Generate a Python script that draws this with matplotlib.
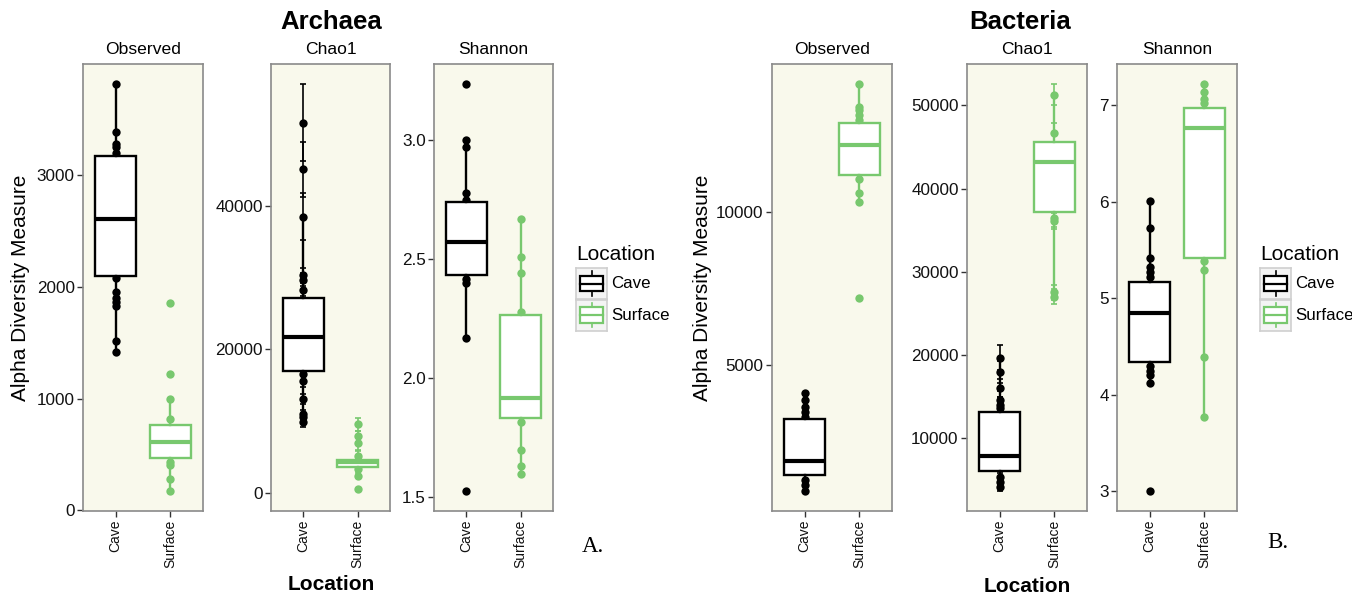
import numpy as np
import matplotlib.pyplot as plt
from matplotlib.patches import Rectangle

plt.rcParams['font.family'] = ['Liberation Sans', 'DejaVu Sans']

W, H = 1352, 599
cave_col = '#000000'
surf_col = '#78C86E'
panel_bg = '#F9F9EC'
groups = ['Cave', 'Surface']

# ---- Archaea ----
# visible sample points (Cave / Surface), box quartiles [q1, median, q3]
arch_obs_cave = [3815, 3387, 3283, 3253, 3200, 2083, 1958, 1905, 1870, 1830, 1512, 1417]
arch_obs_surf = [1854, 1217, 997, 821, 430, 404, 283, 176]
arch_obs_qc = [2101, 2613, 3176]
arch_obs_qs = [467, 613, 762]

arch_chao_cave = [51500, 45030, 38470, 30390, 29690, 28300, 16530, 15600, 13070, 10990, 10530, 9840]
arch_chao_cave_se = [5350, 3780, 3260, 970, 900, 900, 800, 800, 700, 600, 600, 600]
arch_chao_surf = [9600, 7900, 6930, 5210, 3370, 2440, 550]
arch_chao_surf_se = [900, 800, 900, 700, 300, 300, 200]
arch_chao_qc = [16990, 21700, 27160]
arch_chao_qs = [3600, 4300, 4660]

arch_sha_cave = [3.234, 3.001, 2.970, 2.779, 2.747, 2.415, 2.398, 2.170, 1.528]
arch_sha_surf = [2.667, 2.509, 2.442, 2.279, 1.816, 1.697, 1.633, 1.598]
arch_sha_qc = [2.433, 2.574, 2.738]
arch_sha_qs = [1.834, 1.915, 2.266]

# ---- Bacteria ----
bac_obs_cave = [4104, 3864, 3649, 3487, 3325, 1266, 1104, 909]
bac_obs_surf = [14188, 13442, 13333, 13172, 13010, 11084, 10630, 10357, 7221]
bac_obs_qc = [1429, 1864, 3247]
bac_obs_qs = [11224, 12221, 12922]

bac_chao_cave = [19636, 17881, 15970, 14573, 13976, 13582, 5224, 4627, 4030]
bac_chao_cave_se = [1500, 1300, 1100, 1000, 900, 900, 500, 450, 400]
bac_chao_surf = [51300, 46640, 36480, 36080, 27530, 27000]
bac_chao_surf_se = [1240, 1200, 1100, 1000, 900, 900]
bac_chao_qc = [5940, 7815, 13069]
bac_chao_qs = [37200, 43180, 45650]

bac_sha_cave = [6.006, 5.724, 5.415, 5.322, 5.270, 5.219, 4.300, 4.246, 4.204, 4.125, 3.007]
bac_sha_surf = [7.215, 7.139, 7.061, 7.026, 5.381, 5.288, 4.387, 3.768]
bac_sha_qc = [4.342, 4.851, 5.167]
bac_sha_qs = [5.419, 6.758, 6.974]


def px_axes(fig, x0, x1, y0=64, y1=511):
    return fig.add_axes([x0 / W, 1 - y1 / H, (x1 - x0) / W, (y1 - y0) / H])


def box_stats(pts, q, label):
    q1, med, q3 = q
    iqr = q3 - q1
    lo = min(p for p in pts if p >= q1 - 1.5 * iqr)
    hi = max(p for p in pts if p <= q3 + 1.5 * iqr)
    return dict(label=label, q1=q1, med=med, q3=q3, whislo=min(lo, q1), whishi=max(hi, q3))


def panel(ax, title, cave, surf, qc, qs, yticks, ylabels, se_c=None, se_s=None):
    ax.set_facecolor(panel_bg)
    ends = []
    for x, pts, se, col in [(1, cave, se_c, cave_col), (2, surf, se_s, surf_col)]:
        pts = np.array(pts, float)
        ax.plot(np.full(len(pts), x), pts, 'o', color=col, ms=6, mec='none', zorder=2)
        if se is not None:
            se = np.array(se, float)
            ax.errorbar(np.full(len(pts), x), pts, yerr=se, fmt='none', ecolor=col,
                        elinewidth=1.2, capsize=2.2, capthick=1.2, zorder=2)
            ends += list(pts + se) + list(pts - se)
        ends += list(pts)
    for x, pts, q, col in [(1, cave, qc, cave_col), (2, surf, qs, surf_col)]:
        st = box_stats(pts, q, '')
        ax.bxp([st], positions=[x], widths=0.75, showfliers=False, showcaps=False,
               patch_artist=True,
               boxprops=dict(facecolor='white', edgecolor=col, lw=1.7, zorder=3),
               medianprops=dict(color=col, lw=3, zorder=4, solid_capstyle='butt'),
               whiskerprops=dict(color=col, lw=1.7, zorder=3))
    lo, hi = min(ends), max(ends)
    pad = 0.05 * (hi - lo)
    ax.set_ylim(lo - pad, hi + pad)
    ax.set_xlim(0.4, 2.6)
    ax.set_xticks([1, 2])
    ax.set_xticklabels(groups, rotation=90, fontsize=10, color='#111111')
    ax.set_yticks(yticks)
    ax.set_yticklabels(ylabels, fontsize=12.3, color='#111111')
    ax.tick_params(length=4, width=1, color='#333333', pad=2)
    for s in ax.spines.values():
        s.set_color('#8A8A8A')
        s.set_linewidth(1.2)
    ax.set_title(title, fontsize=12.6, pad=7.5)


def legend(fig, x0, ytitle):
    fig.text(x0 / W, 1 - ytitle / H, 'Location', fontsize=15, va='center', ha='left')
    for i, (lab, col) in enumerate([('Cave', cave_col), ('Surface', surf_col)]):
        y0 = 268 + i * 31.5
        k = px_axes(fig, x0, x0 + 31, y0, y0 + 31)
        k.set_xlim(0, 1)
        k.set_ylim(0, 1)
        k.set_xticks([])
        k.set_yticks([])
        k.set_facecolor('#F4F4F4')
        for s in k.spines.values():
            s.set_color('#CFCFCF')
            s.set_linewidth(1.2)
        k.plot([0.5, 0.5], [0.1, 0.25], color=col, lw=1.2)
        k.plot([0.5, 0.5], [0.75, 0.9], color=col, lw=1.2)
        k.add_patch(Rectangle((0.125, 0.25), 0.75, 0.5, facecolor='white', edgecolor=col, lw=1.6))
        k.plot([0.125, 0.875], [0.5, 0.5], color=col, lw=1.6)
        fig.text((x0 + 35) / W, 1 - (y0 + 15.5) / H, lab, fontsize=12.2, va='center', ha='left')


fig = plt.figure(figsize=(W / 100, H / 100), dpi=100)

# Archaea panels
ax = px_axes(fig, 83, 203)
panel(ax, 'Observed', arch_obs_cave, arch_obs_surf, arch_obs_qc, arch_obs_qs,
      [0, 1000, 2000, 3000], ['0', '1000', '2000', '3000'])
ax = px_axes(fig, 271, 390)
panel(ax, 'Chao1', arch_chao_cave, arch_chao_surf, arch_chao_qc, arch_chao_qs,
      [0, 20000, 40000], ['0', '20000', '40000'], arch_chao_cave_se, arch_chao_surf_se)
ax = px_axes(fig, 434, 553)
panel(ax, 'Shannon', arch_sha_cave, arch_sha_surf, arch_sha_qc, arch_sha_qs,
      [1.5, 2.0, 2.5, 3.0], ['1.5', '2.0', '2.5', '3.0'])

# Bacteria panels
ax = px_axes(fig, 772, 892)
panel(ax, 'Observed', bac_obs_cave, bac_obs_surf, bac_obs_qc, bac_obs_qs,
      [5000, 10000], ['5000', '10000'])
ax = px_axes(fig, 967, 1087)
panel(ax, 'Chao1', bac_chao_cave, bac_chao_surf, bac_chao_qc, bac_chao_qs,
      [10000, 20000, 30000, 40000, 50000], ['10000', '20000', '30000', '40000', '50000'],
      bac_chao_cave_se, bac_chao_surf_se)
ax = px_axes(fig, 1117, 1237)
panel(ax, 'Shannon', bac_sha_cave, bac_sha_surf, bac_sha_qc, bac_sha_qs,
      [3, 4, 5, 6, 7], ['3', '4', '5', '6', '7'])

# titles and axis labels
fig.text(331 / W, 1 - 21.7 / H, 'Archaea', fontsize=18.5, fontweight='bold', ha='center', va='center')
fig.text(1020 / W, 1 - 21.7 / H, 'Bacteria', fontsize=18.5, fontweight='bold', ha='center', va='center')
fig.text(331 / W, 1 - 585 / H, 'Location', fontsize=15, fontweight='bold', ha='center', va='center')
fig.text(1027 / W, 1 - 586 / H, 'Location', fontsize=15, fontweight='bold', ha='center', va='center')
fig.text(21 / W, 1 - 287.5 / H, 'Alpha Diversity Measure', fontsize=15, rotation=90, ha='center', va='center')
fig.text(703 / W, 1 - 287.5 / H, 'Alpha Diversity Measure', fontsize=15, rotation=90, ha='center', va='center')

legend(fig, 576, 254)
legend(fig, 1260, 254)

fig.text(582 / W, 1 - 546.7 / H, 'A.', fontsize=16.5, family='Liberation Serif', ha='left', va='center')
fig.text(1267 / W, 1 - 542.7 / H, 'B.', fontsize=16.5, family='Liberation Serif', ha='left', va='center')

fig.savefig('out.png', dpi=100)
